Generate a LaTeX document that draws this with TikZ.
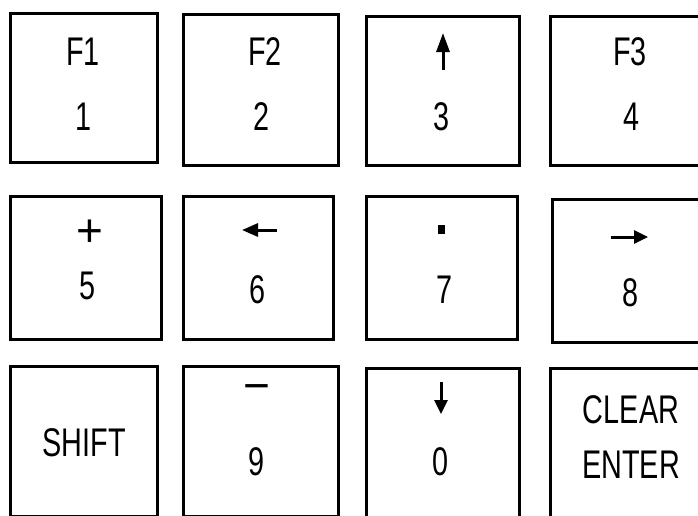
\documentclass[tikz,border=0pt]{standalone}
\usepackage{fontspec}
\newfontfamily\keyfont[FakeStretch=0.72]{Liberation Sans}
\newfontfamily\signfont{Liberation Sans}
\usetikzlibrary{arrows.meta}

\tikzset{
  key/.style={draw, line width=3pt, inner sep=0pt},
  lbl/.style={inner sep=0pt, font=\keyfont\fontsize{40}{40}\selectfont},
  sign/.style={inner sep=0pt, font=\signfont\fontsize{46}{46}\selectfont},
  sym/.style={line width=3pt, -{Triangle[length=#1, width=13pt]}}
}

\begin{document}
\begin{tikzpicture}[x=1pt,y=-1pt]
\useasboundingbox (0,0) rectangle (698,515);
\clip (0,0) rectangle (698,515);
% key frames
\foreach \n/\cx/\cy/\w/\h in {1/84/88/147/149, 2/261/90/155/151, 3/443/91/153/149, 4/627/91/153/149,
  5/86/268/151/143, 6/258.5/268/150/143, 7/442/268/151/143, 8/628/271/151/143,
  s/84/441.5/147/150, 9/261/441.5/155/150, 0/443/443.5/153/150, e/627/443.5/153/150} {
  \node[key, minimum width=\w pt, minimum height=\h pt] (k\n) at (\cx,\cy) {};
}
% row 1
\node[lbl] (f1) at (83,52) {F1};
\node[lbl] (d1) at (84,117) {1};
\node[lbl] (f2) at (265,52) {F2};
\node[lbl] (d2) at (262,117) {2};
\draw[sym=19pt] (443,70) -- (443,33);
\node[lbl] (d3) at (442,117) {3};
\node[lbl] (f3) at (630,52) {F3};
\node[lbl] (d4) at (631,117) {4};
% row 2
\node[sign] (plus) at (90,233) {+};
\node[lbl] (d5) at (88,286) {5};
\draw[sym=16pt] (277,230) -- (242,230);
\node[lbl] (d6) at (258,290) {6};
\node[fill, inner sep=0pt, minimum width=7pt, minimum height=9pt] (dot) at (441,229) {};
\node[lbl] (d7) at (445,290) {7};
\draw[sym=14pt] (611,237) -- (648,237);
\node[lbl] (d8) at (630,293) {8};
% row 3
\node[lbl] (shift) at (84,443) {SHIFT};
\node[sign] (minus) at (257,393) {−};
\node[lbl] (d9) at (257,462) {9};
\draw[sym=14pt] (441,382) -- (441,414);
\node[lbl] (d0) at (441,462) {0};
\node[lbl] (clear) at (631,410) {CLEAR};
\node[lbl] (enter) at (631,465) {ENTER};
\end{tikzpicture}
\end{document}
